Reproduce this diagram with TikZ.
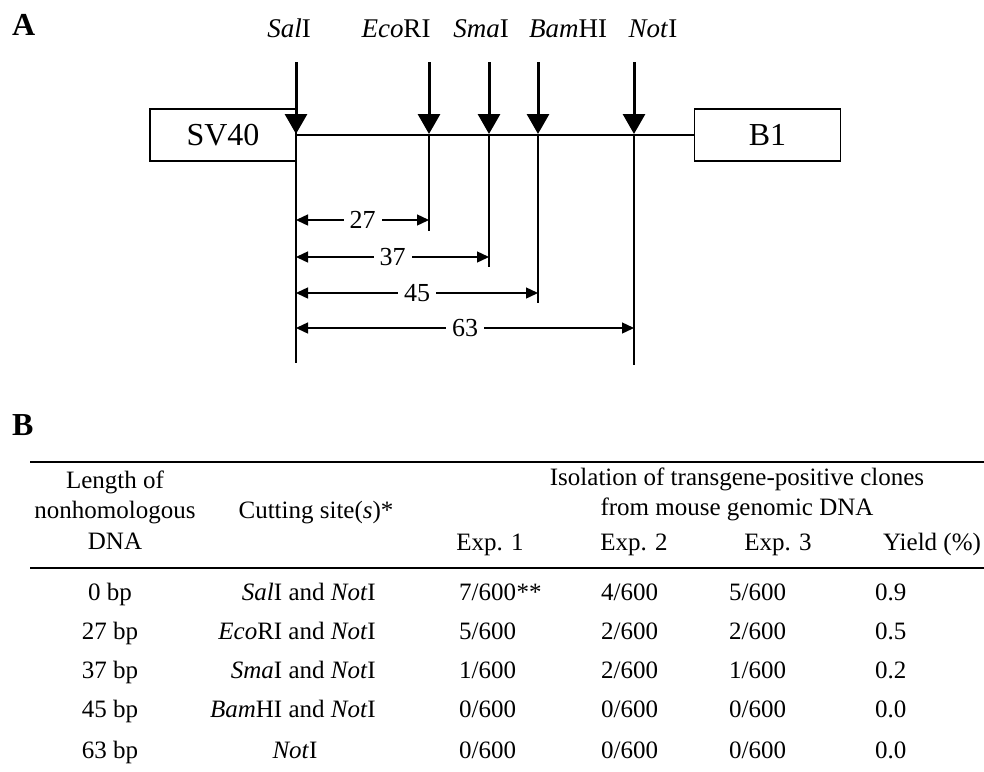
\documentclass[tikz,border=0pt]{standalone}
\usepackage{fontspec}
\setmainfont{Liberation Serif}
\usetikzlibrary{arrows.meta}

\begin{document}
\begin{tikzpicture}[x=1pt, y=-1pt,
    every node/.style={font=\fontsize{25}{30}\selectfont, inner sep=0pt},
    gene/.style={draw, line width=1.6pt, minimum width=146pt, minimum height=52pt, font=\fontsize{32}{36}\selectfont},
    site/.style={line width=3pt, -{Triangle[width=22pt,length=20pt]}},
    cutline/.style={line width=1.5pt},
    dim/.style={line width=1.4pt, {Triangle[width=11pt,length=12pt]}-{Triangle[width=11pt,length=12pt]}},
    dimlbl/.style={fill=white, inner xsep=6pt, font=\fontsize{26}{30}\selectfont},
    enzyme/.style={anchor=base, font=\fontsize{27}{30}\selectfont},
    panel/.style={anchor=base west, font=\fontsize{32}{36}\selectfont\bfseries},
    cell/.style={anchor=base},
    rule/.style={line width=2pt}]

    \useasboundingbox (0,0) rectangle (984,771);

    % panel A
    \node[panel] (pA) at (12,35) {A};

    \node[gene] (sv40) at (223,135) {SV40};
    \node[gene] (b1) at (767.5,135) {B1};
    \draw[cutline] (sv40.east) -- (b1.west);

    \foreach \n/\x/\lx/\bot/\name in {sal/296/289/363/{\textit{Sal}I}, eco/429/396/231/{\textit{Eco}RI},
        sma/489/481/267/{\textit{Sma}I}, bam/538/568/303/{\textit{Bam}HI}, not/634/653/365/{\textit{Not}I}} {
        \coordinate (\n top) at (\x,62);
        \coordinate (\n) at (\x,134);
        \coordinate (\n bot) at (\x,\bot);
        \node[enzyme] (\n lbl) at (\lx,37) {\name};
        \draw[site] (\n top) -- (\n);
        \draw[cutline] (\n) -- (\n bot);
    }

    \foreach \n/\y/\t in {eco/220/27, sma/257/37, bam/293/45, not/328/63} {
        \coordinate (\n L) at (sal |- 0,\y);
        \coordinate (\n R) at (\n |- 0,\y);
        \draw[dim] (\n L) -- node[dimlbl] (\n len) {\t} (\n R);
    }

    % panel B
    \node[panel] (pB) at (12,435) {B};

    \coordinate (r1w) at (30,462);  \coordinate (r1e) at (984,462);
    \coordinate (r2w) at (30,568);  \coordinate (r2e) at (984,568);
    \draw[rule] (r1w) -- (r1e);
    \draw[rule] (r2w) -- (r2e);

    \node[cell] (hl1) at (115,488) {Length of};
    \node[cell] (hl2) at (115,518) {nonhomologous};
    \node[cell] (hl3) at (115,549) {DNA};
    \node[cell] (hcut) at (316,518) {Cutting site(\textit{s})*};
    \node[cell] (hiso1) at (737,485) {Isolation of transgene-positive clones};
    \node[cell] (hiso2) at (737,515) {from mouse genomic DNA};
    \node[cell] (hexp1) at (490,550) {Exp. 1};
    \node[cell] (hexp2) at (634,550) {Exp. 2};
    \node[cell] (hexp3) at (778,550) {Exp. 3};
    \node[cell] (hyld) at (932,550) {Yield (\%)};

    \foreach \y/\len/\cx/\anc/\cut/\a/\b/\c/\yld in {
        600/0/376/base east/{\textit{Sal}I and \textit{Not}I}/7/4/5/0.9,
        639/27/376/base east/{\textit{Eco}RI and \textit{Not}I}/5/2/2/0.5,
        678/37/376/base east/{\textit{Sma}I and \textit{Not}I}/1/2/1/0.2,
        717/45/376/base east/{\textit{Bam}HI and \textit{Not}I}/0/0/0/0.0,
        758/63/295/base/{\textit{Not}I}/0/0/0/0.0} {
        \node[cell] (len\len) at (110,\y) {\len\ bp};
        \node[anchor=\anc] (cut\len) at (\cx,\y) {\cut};
        \node[anchor=base west] (ea\len) at (459,\y) {\a/600};
        \node[anchor=base west] (eb\len) at (601,\y) {\b/600};
        \node[anchor=base west] (ec\len) at (729,\y) {\c/600};
        \node[anchor=base west] (yld\len) at (875,\y) {\yld};
    }
    \node[anchor=base west] (stars) at (ea0.base east) {**};
\end{tikzpicture}
\end{document}
